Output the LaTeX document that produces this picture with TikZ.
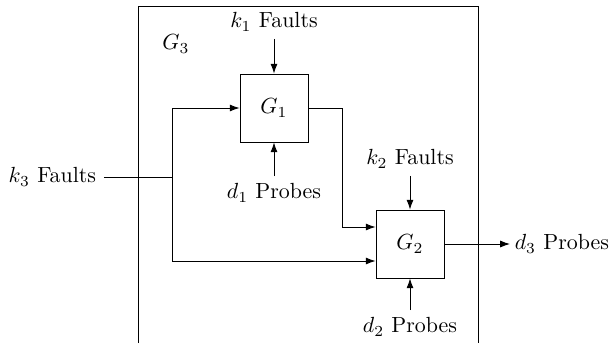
\documentclass[tikz,border=0pt]{standalone}
\usetikzlibrary{arrows.meta}
\begin{document}
\begin{tikzpicture}[x=0.4566pt,y=-0.4566pt,
  blk/.style={draw,minimum size=31pt,inner sep=0pt},
  arr/.style={-{Latex[length=4.5pt,width=3.2pt]}},
  line width=0.4pt]
\useasboundingbox (0,0) rectangle (609,343);
% outer G3 box (bottom cut off)
\draw (138,343) -- (138,6) -- (478,6) -- (478,343);
\node (g3) at (176,44) {$G_3$};
\node[blk] (G1) at (274,108) {$G_1$};
\node[blk] (G2) at (410,244) {$G_2$};
\node (k1) at (274,22) {$k_1$ Faults};
\node (d1) at (274,193) {$d_1$ Probes};
\node (k2) at (410,159) {$k_2$ Faults};
\node (d2) at (410,327) {$d_2$ Probes};
\node[anchor=west] (k3) at (1,177) {$k_3$ Faults};
\node[anchor=west,inner sep=2pt] (d3) at (510,244) {$d_3$ Probes};
\coordinate (J) at (172,177);
\coordinate (G1r) at (342,108);
\draw[arr] (k1) -- (G1);
\draw[arr] (d1) -- (G1);
\draw[arr] (k2) -- (G2);
\draw[arr] (d2) -- (G2);
\draw (k3) -- (J);
\draw[arr] (J) |- (G1.west);
\draw[arr] (J) |- ([yshift=-17*0.4566pt]G2.west);
\draw (G1.east) -- (G1r);
\draw[arr] (G1r) |- ([yshift=17*0.4566pt]G2.west);
\draw[arr] (G2.east) -- (G2.east -| d3.west);
\end{tikzpicture}
\end{document}
